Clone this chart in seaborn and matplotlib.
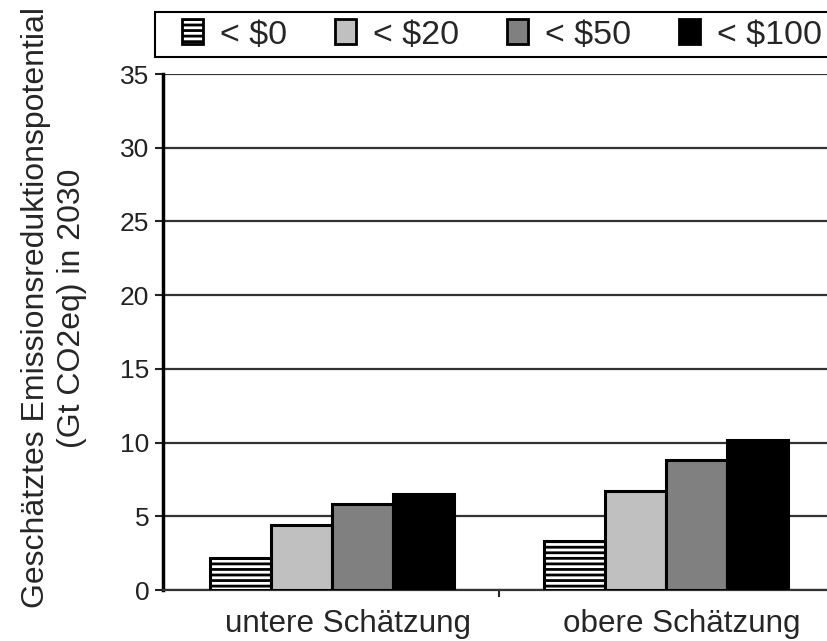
import matplotlib
matplotlib.use("Agg")
import matplotlib.pyplot as plt
import matplotlib.transforms as mtransforms
from matplotlib.patches import Patch, Rectangle
import pandas as pd
import seaborn as sns

# Kategorien und Werte
schaetzungen = ["untere Schätzung", "obere Schätzung"]
kosten = ["< $0", "< $20", "< $50", "< $100"]
untere = [2.2, 4.4, 5.8, 6.5]
obere = [3.3, 6.7, 8.8, 10.2]
farben = ["#ffffff", "#c0c0c0", "#808080", "#000000"]

df = pd.DataFrame({
    "Schätzung": [schaetzungen[0]] * 4 + [schaetzungen[1]] * 4,
    "Kosten": kosten * 2,
    "Wert": untere + obere,
})

sns.set_style("white")
plt.rcParams["font.family"] = ["Liberation Sans", "DejaVu Sans"]
plt.rcParams["hatch.color"] = "#777777"
plt.rcParams["hatch.linewidth"] = 2.0

W, H = 828, 641
fig = plt.figure(figsize=(W / 100, H / 100), dpi=100)
ax = fig.add_axes([163 / W, (H - 590) / H, (840 - 163) / W, (590 - 74) / H])

sns.barplot(data=df, x="Schätzung", y="Wert", hue="Kosten", hue_order=kosten,
            palette=farben, width=0.73, gap=0, edgecolor="black", linewidth=2.2,
            saturation=1, ax=ax, legend=False, zorder=3)

# Schraffur fuer < $0
for bar in ax.containers[0]:
    bar.set_hatch("---")

ax.set_ylim(0, 35)
ax.set_yticks(range(0, 36, 5))
ax.set_xlim(-0.505, 1.52)
ax.yaxis.grid(True, color="#333333", linewidth=1.6, zorder=0)
ax.set_axisbelow(True)
for s in ["top", "right"]:
    ax.spines[s].set_visible(False)
ax.spines["left"].set_linewidth(2.5)
ax.spines["left"].set_color("black")
ax.spines["bottom"].set_linewidth(1.6)
ax.spines["bottom"].set_color("#333333")

ax.tick_params(axis="y", labelsize=19, length=5.8, width=1.5, left=True, colors="#222222", pad=4)
ax.set_xticks([0, 1])
ax.set_xticklabels(schaetzungen, fontsize=22.6)
ax.set_xticks([0.5], minor=True)
ax.tick_params(axis="x", which="major", length=0, pad=14)
ax.tick_params(axis="x", which="minor", length=5, width=1.5, bottom=True, direction="out")
# Beschriftungen leicht nach rechts versetzt wie im Original
off = mtransforms.ScaledTranslation(16 / 100, 0, fig.dpi_scale_trans)
for lab in ax.get_xticklabels():
    lab.set_transform(lab.get_transform() + off)
ax.set_xlabel("")
ax.set_ylabel("Geschätztes Emissionsreduktionspotential\n(Gt CO2eq) in 2030",
              fontsize=23, linespacing=1.25)
ax.yaxis.set_label_coords((87 - 163) / (840 - 163), (590 - 308) / (590 - 74))

# Legende
fig.patches.append(Rectangle((155 / W, 1 - 57 / H), (850 - 155) / W, 45 / H,
                             transform=fig.transFigure, facecolor="white",
                             edgecolor="black", linewidth=1.5, zorder=5))
handles = [Patch(facecolor=f, edgecolor="black", linewidth=2, hatch="---" if i == 0 else None)
           for i, f in enumerate(farben)]
leg = fig.legend(handles, kosten, loc="center left", bbox_to_anchor=(182 / W, 1 - 35 / H),
                 ncol=4, fontsize=24.5, frameon=False,
                 handlelength=0.62, handleheight=0.75, handletextpad=0.5, columnspacing=1.4,
                 borderpad=0, borderaxespad=0)
leg.set_zorder(6)

fig.savefig("out.png", dpi=100)
